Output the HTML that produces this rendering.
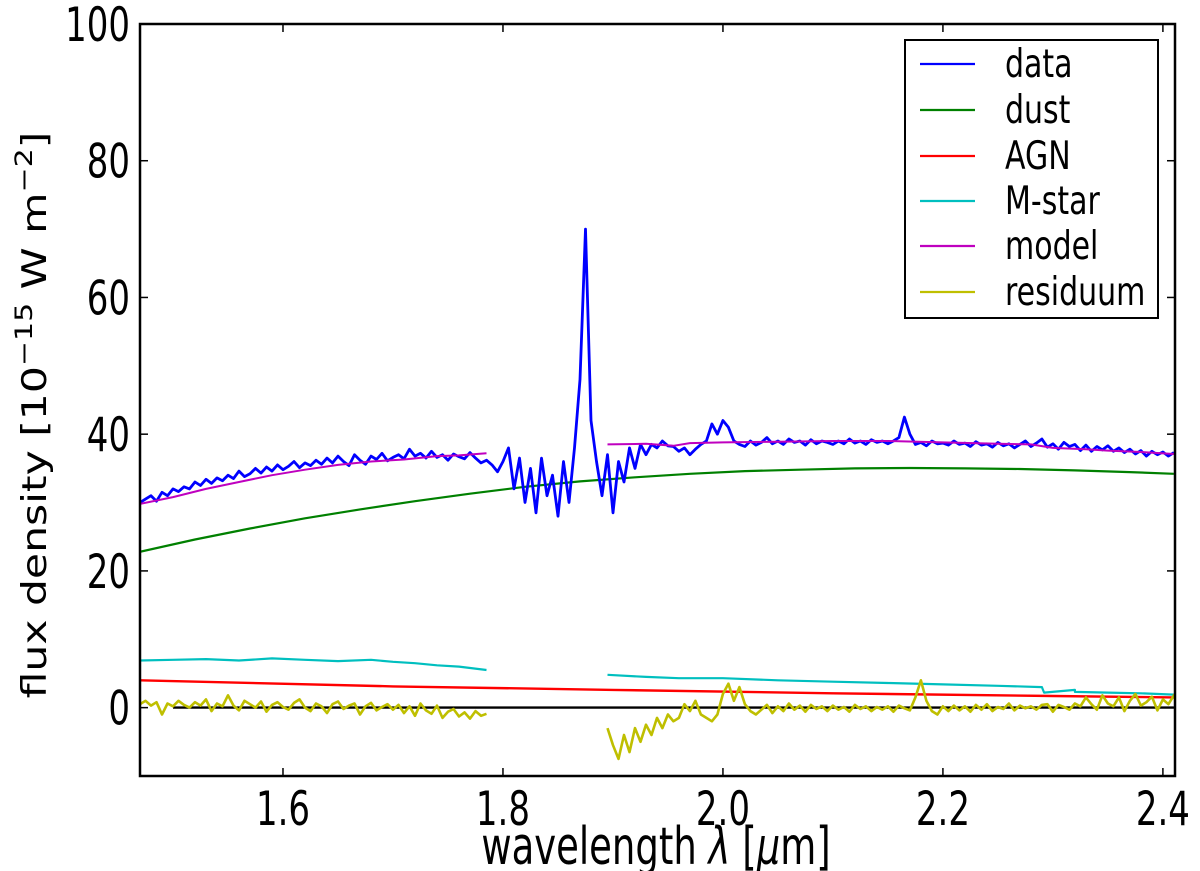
<!DOCTYPE html>
<html><head><meta charset="utf-8"><style>
body{margin:0;background:#fff;}
svg{display:block;font-family:"DejaVu Sans","Liberation Sans",sans-serif;}
</style></head><body>
<svg id="chart" width="1200" height="871" viewBox="0 0 1200 871" xmlns="http://www.w3.org/2000/svg">
<g id="plot"></g>
<g id="axes"></g>
</svg>
<script>
const xTicks=[1.6,1.8,2.0,2.2,2.4];
const xTickLabels=["1.6","1.8","2.0","2.2","2.4"];
const yTicks=[0,20,40,60,80,100];
const yTickLabels=["0","20","40","60","80","100"];
const dataStart=1.47, dataStep=0.005;
const dataFlux=[30,30.5,31,30.2,31.5,31,32,31.6,32.3,32,33,
32.5,33.4,32.8,33.6,33.2,34,33.5,34.6,33.8,34.2,35,34.3,35.2,34.6,35.5,34.8,
35.3,36,35.1,35.8,35.4,36.2,35.6,36.5,35.8,36.8,36,35.4,37,36.2,35.6,36.8,36.3,37.2,36.1,36.6,
37,36.4,37.8,36.8,37.2,36.5,37.5,36.6,37,36.2,37.1,36.7,36.4,37.3,36.5,35.8,36.2,
35.5,34.5,36,38,32,36.5,30,35,28.5,36.5,31,34,28,36,30,38,48,70,42,36,31,37,28.5,
36,33,38,35,38.5,37,38.5,38,39,38.3,
38.2,37.5,38,37,37.8,38.5,39,41.5,40,42,
41,39,38.5,38.2,39,38.4,38.8,39.5,38.6,39,
38.5,39.3,38.8,39,38.4,39.2,38.6,39,38.8,38.5,
39,38.6,39.3,38.7,39,38.5,39.2,38.8,39,38.6,
39,39.5,42.5,40,38.5,38.8,38.3,39,38.6,38.7,
38.4,39,38.5,38.7,38.2,38.9,38.4,38.6,38.1,38.8,
38.3,38.6,38.0,38.5,39,38.2,38.7,39.3,38.1,38.6,
37.8,38.8,38.2,38.5,37.6,38.4,37.5,38.2,37.7,38.3,
37.5,38,37.3,37.8,37.1,37.6,36.8,37.5,37,37.4,
36.8,37.3];
const dustX=[1.47,1.52,1.57,1.62,1.67,1.72,1.77,1.82,1.87,1.92,1.97,2.02,2.07,2.12,2.17,2.22,2.27,2.32,2.37,2.41];
const dustY=[22.8,24.6,26.2,27.7,29.0,30.2,31.3,32.3,33.1,33.7,34.2,34.6,34.8,35.0,35.05,35.0,34.9,34.7,34.45,34.2];
const agnX=[1.47,1.7,1.9,2.1,2.3,2.41];
const agnY=[4.0,3.1,2.6,2.1,1.7,1.5];
const model1X=[1.47,1.5,1.53,1.56,1.59,1.62,1.65,1.68,1.71,1.74,1.76,1.785];
const model1Y=[29.8,30.8,32.0,33.0,34.0,34.8,35.5,36.0,36.3,36.8,36.9,37.2];
const model2X=[1.895,1.93,1.955,1.97,2.0,2.05,2.1,2.15,2.2,2.25,2.28,2.3,2.33,2.35,2.38,2.41];
const model2Y=[38.5,38.6,38.3,38.7,38.8,38.9,39.0,39.0,38.8,38.6,38.5,38.0,37.8,37.6,37.4,37.1];
const mstar1X=[1.47,1.5,1.53,1.56,1.59,1.62,1.65,1.68,1.7,1.72,1.74,1.76,1.785];
const mstar1Y=[6.9,7.0,7.1,6.9,7.2,7.0,6.8,7.0,6.7,6.5,6.2,6.0,5.5];
const mstar2X=[1.895,1.93,1.96,2.0,2.05,2.1,2.15,2.2,2.25,2.29,2.292,2.32,2.32,2.35,2.38,2.41];
const mstar2Y=[4.8,4.5,4.3,4.3,4.0,3.8,3.6,3.4,3.2,3.0,2.2,2.6,2.3,2.2,2.1,1.9];
const resStart1=1.47, resStep=0.005;
const res1=[0.5,1,0.3,0.8,-1,0.6,0.2,1,0.4,0,0.8,
0.3,1.2,-0.5,0.6,0.2,1.8,0.3,-0.4,1,0.5,0,0.9,-0.6,0.4,0.8,0.1,
-0.3,0.7,1.2,0,-0.5,0.6,0.2,-0.8,0.5,0.9,-0.2,0.3,0.6,-1,0.2,0.7,-0.4,0.1,0.5,-0.3,
0.4,-0.8,0.2,-1.2,0.6,-0.4,-0.9,0.3,-1.5,-0.6,-0.2,-1.3,-0.7,-1.6,-0.5,-1.2,-0.9];
const resStart2=1.895;
const res2=[-3,-5.5,-7.5,-4,-6.5,-3,-5,-2.5,-4,-1.5,-3,-1,-2,-1.5,0.5,-0.5,1,-1,-1.5,-2,-1,
2,3.5,1,3,0.5,-0.5,-1,-0.3,0.4,-0.8,0.2,-0.5,0.6,-0.3,0.3,-0.6,0.4,-0.2,0.2,
-0.5,0.3,-0.3,0.1,-0.6,0.4,-0.2,0.2,-0.5,0.1,-0.3,0.2,-0.6,0.3,-0.1,-0.4,1.5,4,1,-0.5,
-1,0.2,-0.5,0.3,-0.4,0.2,-0.6,0.4,-0.3,0.5,-0.5,0.1,-0.2,0.6,-0.4,0.3,-0.1,0.2,-0.3,0.4,
0.5,-0.6,0.4,0.1,-0.3,0.6,0.2,1.5,0.5,-0.3,1.8,0.6,0.2,1.5,-0.5,1,2,0.3,0.8,1.6,-0.4,1.2,0.5,1.8,0,0.7,1.3,0.2,1.5,-0.5,1];
const zeroX=[1.5,2.41], zeroY=[0,0];

const L=140,R=1175,T=24,B=776, XMIN=1.47,XMAX=2.411,YMIN=-10,YMAX=100;
const sx=v=>L+(v-XMIN)/(XMAX-XMIN)*(R-L);
const sy=v=>B-(v-YMIN)/(YMAX-YMIN)*(B-T);
const NS="http://www.w3.org/2000/svg";
const plot=document.getElementById('plot'), axes=document.getElementById('axes');
function mk(tag,attrs,parent){const e=document.createElementNS(NS,tag);for(const k in attrs)e.setAttribute(k,attrs[k]);parent.appendChild(e);return e;}
function line(xs,ys,color,w,name){
  const d=xs.map((x,i)=>(i?'L':'M')+sx(x).toFixed(1)+' '+sy(ys[i]).toFixed(1)).join('');
  const p=mk('path',{d:d,fill:'none',stroke:color,'stroke-width':w,'stroke-linejoin':'round'},plot);
  
  
}
const cp=mk('clipPath',{id:'cp'},document.getElementById('chart'));
mk('rect',{x:L,y:T,width:R-L,height:B-T},cp);
plot.setAttribute('clip-path','url(#cp)');
line(dustX,dustY,'#008000',2.2,'dust-line');
line(agnX,agnY,'#ff0000',2.4,'agn-line');
line(mstar1X,mstar1Y,'#00bfbf',2.2,'mstar-line-1');
line(mstar2X,mstar2Y,'#00bfbf',2.2,'mstar-line-2');
line(zeroX,zeroY,'#000',2.4,'zero-line');
line(res1.map((v,i)=>resStart1+i*resStep),res1,'#bfbf00',2.6,'residuum-line-1');
line(res2.map((v,i)=>resStart2+i*resStep),res2,'#bfbf00',2.6,'residuum-line-2');
line(dataFlux.map((v,i)=>dataStart+i*dataStep),dataFlux,'#0000ff',2.8,'data-line');
line(model1X,model1Y,'#bf00bf',2,'model-line-1');
line(model2X,model2Y,'#bf00bf',2,'model-line-2');

const fr=mk('rect',{x:L,y:T,width:R-L,height:B-T,fill:'none',stroke:'#000','stroke-width':2.5},axes);


xTicks.forEach((v,i)=>{
  const x=sx(v);
  mk('line',{x1:x,x2:x,y1:B,y2:B-8,stroke:'#000','stroke-width':1.5},axes);
  mk('line',{x1:x,x2:x,y1:T,y2:T+8,stroke:'#000','stroke-width':1.5},axes);
  const t=mk('text',{x:0,y:0,'font-size':34,'text-anchor':'middle',transform:'translate('+x+','+(B+49)+') scale(1,1.4)'},axes);
  t.textContent=xTickLabels[i];
  
  
});
yTicks.forEach((v,i)=>{
  const y=sy(v);
  mk('line',{x1:L,x2:L+8,y1:y,y2:y,stroke:'#000','stroke-width':1.5},axes);
  mk('line',{x1:R,x2:R-8,y1:y,y2:y,stroke:'#000','stroke-width':1.5},axes);
  const t=mk('text',{x:0,y:0,'font-size':34,'text-anchor':'end',transform:'translate('+(L-10)+','+(y+17)+') scale(1,1.4)'},axes);
  t.textContent=yTickLabels[i];
  
  
});
</script>
<svg style="position:absolute;left:0;top:0" width="1200" height="871" xmlns="http://www.w3.org/2000/svg" font-family="DejaVu Sans, Liberation Sans, sans-serif">
<text transform="translate(656,864) scale(1,1.4)" font-size="37" text-anchor="middle">wavelength <tspan font-style="italic">λ</tspan> [<tspan font-style="italic">μ</tspan>m]</text>
<text transform="translate(46,415) rotate(-90) scale(1.25,1)" font-size="34" text-anchor="middle">flux density [10<tspan dy="-14" font-size="24">−15</tspan><tspan dy="14"> W m</tspan><tspan dy="-14" font-size="24">−2</tspan><tspan dy="14">]</tspan></text>
<g>
<rect x="905" y="40" width="253" height="278" fill="#fff" stroke="#000" stroke-width="2"/>
<g font-size="30">
<g><line x1="920" x2="975" y1="64" y2="64" stroke="#0000ff" stroke-width="2.2"/><text transform="translate(1005,77) scale(1,1.3)">data</text></g>
<g><line x1="920" x2="975" y1="110" y2="110" stroke="#008000" stroke-width="2.2"/><text transform="translate(1005,123) scale(1,1.3)">dust</text></g>
<g><line x1="920" x2="975" y1="156" y2="156" stroke="#ff0000" stroke-width="2.2"/><text transform="translate(1005,169) scale(1,1.3)">AGN</text></g>
<g><line x1="920" x2="975" y1="201" y2="201" stroke="#00bfbf" stroke-width="2.2"/><text transform="translate(1005,214) scale(1,1.3)">M-star</text></g>
<g><line x1="920" x2="975" y1="246" y2="246" stroke="#bf00bf" stroke-width="2.2"/><text transform="translate(1005,259) scale(1,1.3)">model</text></g>
<g><line x1="920" x2="975" y1="292" y2="292" stroke="#bfbf00" stroke-width="2.2"/><text transform="translate(1005,305) scale(1,1.3)">residuum</text></g>
</g></g>
</svg>
</body></html>
